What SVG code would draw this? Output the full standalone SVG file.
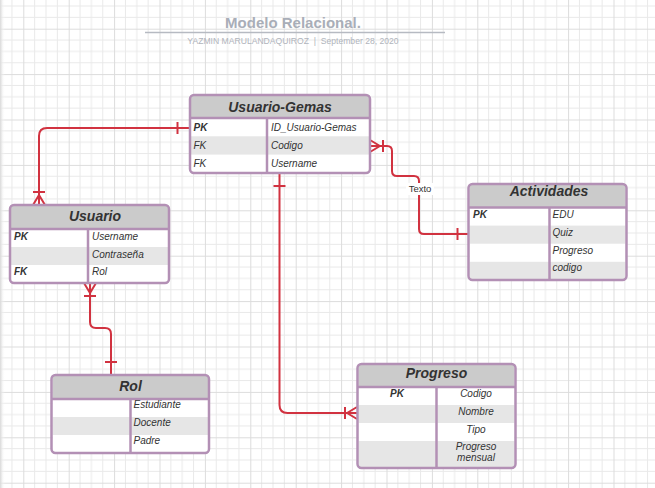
<svg xmlns="http://www.w3.org/2000/svg" width="655" height="488" viewBox="0 0 655 488">
<style>
.box{fill:none;stroke:#b390b5;stroke-width:2.5}
.div{stroke:#b390b5;stroke-width:2.5}
.hdr{fill:#cbcbcb}
.alt{fill:#e6e6e6}
.wht{fill:#ffffff}
.ht{font-family:"Liberation Sans",Arial,sans-serif;font-size:14px;font-weight:bold;font-style:italic;fill:#333333;text-anchor:middle}
.rt{font-family:"Liberation Sans",Arial,sans-serif;font-size:10px;font-style:italic;fill:#333333}
.b{font-weight:bold}
.mid{text-anchor:middle}
.con{fill:none;stroke:#d13240;stroke-width:2;stroke-linejoin:round}
</style>
<defs>
<pattern id="grid" patternUnits="userSpaceOnUse" x="-22.1" y="-16.7" width="45.4" height="45.4">
<path d="M11.35,0V45.4M22.7,0V45.4M34.05,0V45.4M0,11.35H45.4M0,22.7H45.4M0,34.05H45.4" stroke="#e9e9e9" stroke-width="1" fill="none"/>
<path d="M0.5,0V45.4M0,0.5H45.4" stroke="#dcdcdc" stroke-width="1" fill="none"/>
</pattern>
<linearGradient id="shade" x1="0" y1="0" x2="1" y2="0">
<stop offset="0" stop-color="#d9d9d9"/>
<stop offset="1" stop-color="#ffffff" stop-opacity="0"/>
</linearGradient>
</defs>
<rect width="655" height="488" fill="#ffffff"/>
<rect width="655" height="488" fill="url(#grid)"/>
<rect width="5" height="488" fill="url(#shade)"/>

<g id="title">
<text x="293" y="28" font-family="Liberation Sans, Arial, sans-serif" font-size="15" font-weight="bold" fill="#a9aeb8" text-anchor="middle">Modelo Relacional.</text>
<line x1="145" y1="32.5" x2="445" y2="32.5" stroke="#b6bac2" stroke-width="1.5"/>
<text x="293" y="44" font-family="Liberation Sans, Arial, sans-serif" font-size="8.6" fill="#b0b4bc" text-anchor="middle" style="white-space:pre">YAZMIN MARULANDAQUIROZ  |  September 28, 2020</text>
</g>

<g id="connectors">
<path class="con" d="M190,128 H47 Q39,128 39,136 V205"/>
<path class="con" d="M177.5,122 V134"/>
<path class="con" d="M33,192 H45 M39,195 L33,205 M39,195 V205 M39,195 L45,205"/>
<path class="con" d="M90,283 V322 Q90,328 96,328 H105 Q111,328 111,334 V375"/>
<path class="con" d="M84,296 H96 M90,293 L84,283 M90,293 V283 M90,293 L96,283"/>
<path class="con" d="M105,362 H117"/>
<path class="con" d="M279.5,173 V405 Q279.5,413 287.5,413 H357"/>
<path class="con" d="M273.5,186 H285.5"/>
<path class="con" d="M345,407 V419 M347,413 L357,407 M347,413 H357 M347,413 L357,419"/>
<path class="con" d="M370,146 H387 Q392,146 392,151 V171 Q392,176 397,176 H414 Q419,176 419,181 V229 Q419,234 424,234 H468"/>
<path class="con" d="M383,140 V152 M380,146 L370,140 M380,146 H370 M380,146 L370,152"/>
<path class="con" d="M457.5,228 V240"/>
<rect x="406" y="183" width="28" height="12" fill="#ffffff"/>
<text x="420" y="191.7" font-family="Liberation Sans, Arial, sans-serif" font-size="9.5" fill="#333333" text-anchor="middle">Texto</text>
</g>

<g id="usuario-gemas">
<rect class="wht" x="191" y="96" width="178" height="76"/>
<rect class="hdr" x="191" y="96" width="178" height="22"/>
<rect class="alt" x="191" y="136.3" width="178" height="18.3"/>
<line class="div" x1="190" y1="118" x2="370" y2="118"/>
<line class="div" x1="267" y1="118" x2="267" y2="173"/>
<rect class="box" x="190" y="95" width="180" height="78" rx="4"/>
<text class="ht" x="280" y="111.5">Usuario-Gemas</text>
<text class="rt b" x="193.5" y="131">PK</text>
<text class="rt" x="271" y="131">ID_Usuario-Gemas</text>
<text class="rt" x="193.5" y="149">FK</text>
<text class="rt" x="271" y="149">Codigo</text>
<text class="rt" x="193.5" y="167">FK</text>
<text class="rt" x="271" y="167">Username</text>
</g>

<g id="usuario">
<rect class="wht" x="11" y="206" width="157" height="76"/>
<rect class="hdr" x="11" y="206" width="157" height="23"/>
<rect class="alt" x="11" y="247" width="157" height="18"/>
<line class="div" x1="10" y1="229" x2="169" y2="229"/>
<line class="div" x1="88" y1="229" x2="88" y2="283"/>
<rect class="box" x="10" y="205" width="159" height="78" rx="4"/>
<text class="ht" x="95" y="221">Usuario</text>
<text class="rt b" x="14" y="239.5">PK</text>
<text class="rt" x="92" y="239.5">Username</text>
<text class="rt" x="92" y="257.5">Contraseña</text>
<text class="rt b" x="14" y="275">FK</text>
<text class="rt" x="92" y="275">Rol</text>
</g>

<g id="actividades">
<rect class="wht" x="469.5" y="185" width="156" height="94"/>
<rect class="hdr" x="469.5" y="185" width="156" height="22.5"/>
<rect class="alt" x="469.5" y="225.6" width="156" height="18.1"/>
<rect class="alt" x="469.5" y="261.8" width="156" height="17.2"/>
<line class="div" x1="468.5" y1="207.5" x2="626.5" y2="207.5"/>
<line class="div" x1="549.5" y1="207.5" x2="549.5" y2="280"/>
<rect class="box" x="468.5" y="184" width="158" height="96" rx="4"/>
<text class="ht" x="549" y="195.5">Actividades</text>
<text class="rt b" x="473" y="217.5">PK</text>
<text class="rt" x="552.5" y="217.5">EDU</text>
<text class="rt" x="552.5" y="235.7">Quiz</text>
<text class="rt" x="552.5" y="253.5">Progreso</text>
<text class="rt" x="552.5" y="271.2">codigo</text>
</g>

<g id="rol">
<rect class="wht" x="52.5" y="376" width="155.5" height="76"/>
<rect class="hdr" x="52.5" y="376" width="155.5" height="23"/>
<rect class="alt" x="52.5" y="417" width="155.5" height="18"/>
<line class="div" x1="51.5" y1="399" x2="209" y2="399"/>
<line class="div" x1="130.5" y1="399" x2="130.5" y2="453"/>
<rect class="box" x="51.5" y="375" width="157.5" height="78" rx="4"/>
<text class="ht" x="130.5" y="391">Rol</text>
<text class="rt" x="133.5" y="408">Estudiante</text>
<text class="rt" x="133.5" y="426">Docente</text>
<text class="rt" x="133.5" y="444">Padre</text>
</g>

<g id="progreso">
<rect class="wht" x="358.5" y="365" width="156" height="102"/>
<rect class="hdr" x="358.5" y="365" width="156" height="22"/>
<rect class="alt" x="358.5" y="405" width="156" height="18"/>
<rect class="alt" x="358.5" y="441" width="156" height="26"/>
<line class="div" x1="357.5" y1="387" x2="515.5" y2="387"/>
<line class="div" x1="436.5" y1="387" x2="436.5" y2="468"/>
<rect class="box" x="357.5" y="364" width="158" height="104" rx="4"/>
<text class="ht" x="436.5" y="377.5">Progreso</text>
<text class="rt b mid" x="397" y="396.5">PK</text>
<text class="rt mid" x="476" y="397">Codigo</text>
<text class="rt mid" x="476" y="415">Nombre</text>
<text class="rt mid" x="476" y="433">Tipo</text>
<text class="rt mid" x="476" y="449.5">Progreso</text>
<text class="rt mid" x="476" y="461">mensual</text>
</g>
</svg>
